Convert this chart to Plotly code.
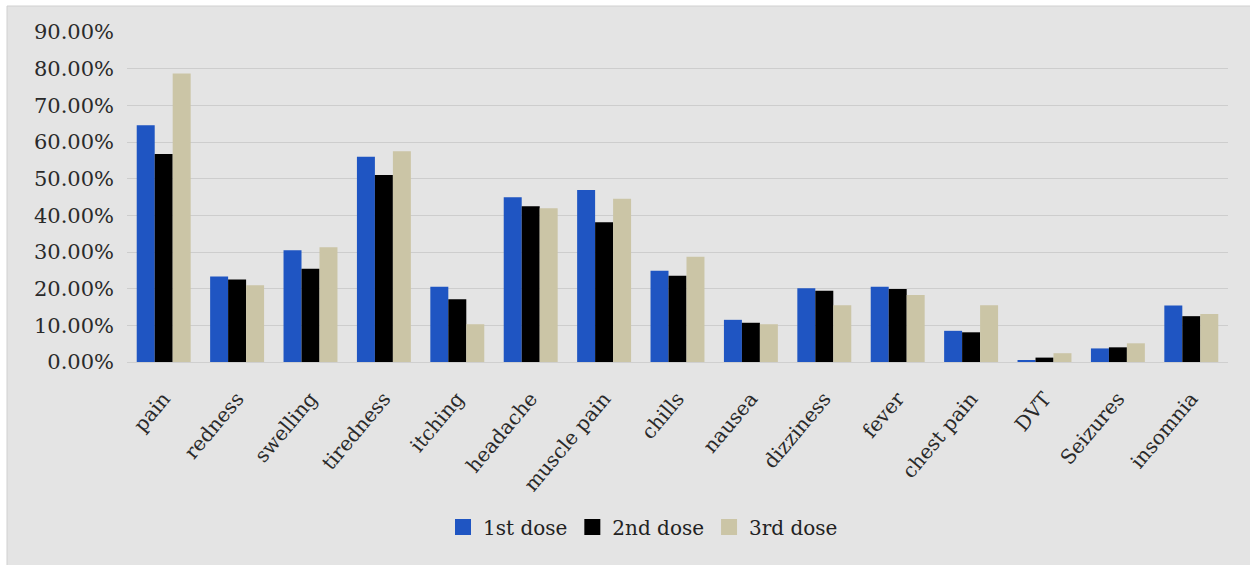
import plotly.graph_objects as go

categories = ["pain", "redness", "swelling", "tiredness", "itching", "headache",
              "muscle pain", "chills", "nausea", "dizziness", "fever", "chest pain",
              "DVT", "Seizures", "insomnia"]
dose1 = [64.6, 23.3, 30.5, 56.0, 20.5, 44.9, 46.9, 24.9, 11.5, 20.1, 20.5, 8.5, 0.5, 3.7, 15.4]
dose2 = [56.7, 22.5, 25.4, 51.0, 17.1, 42.5, 38.1, 23.5, 10.7, 19.4, 19.9, 8.1, 1.2, 4.0, 12.5]
dose3 = [78.7, 20.9, 31.3, 57.5, 10.3, 41.9, 44.5, 28.7, 10.3, 15.5, 18.3, 15.5, 2.4, 5.1, 13.1]
series_names = ["1st dose", "2nd dose", "3rd dose"]
colors = ["#1f55c2", "#000000", "#cbc5a6"]
y_ticks = [0, 10, 20, 30, 40, 50, 60, 70, 80, 90]

W, H = 1250, 565
ml, mr, mt, mb = 127, 22, 32, 203
pw, ph = W - ml - mr, H - mt - mb

fig = go.Figure()
for name, vals, c in zip(series_names, [dose1, dose2, dose3], colors):
    fig.add_trace(go.Bar(x=categories, y=[v / 100 for v in vals], name=name,
                         marker=dict(color=c, line=dict(width=0)), showlegend=False))
# legend swatches (square markers, like the reference's square keys)
for name, c in zip(series_names, colors):
    fig.add_trace(go.Scatter(x=[None], y=[None], mode="markers", name=name,
                             marker=dict(symbol="square", size=18, color=c,
                                         line=dict(width=0)),
                             showlegend=True))

font_family = "DejaVu Serif"
fig.update_layout(
    width=W, height=H,
    margin=dict(l=ml, r=mr, t=mt, b=mb),
    paper_bgcolor="white",
    plot_bgcolor="#e4e4e4",
    barmode="group", bargap=0.265, bargroupgap=0,
    font=dict(family=font_family, color="#333333", size=18),
    showlegend=True,
    legend=dict(orientation="h", x=(643 - ml) / pw, xanchor="center",
                y=(H - mb - 527) / ph, yanchor="middle",
                font=dict(size=20, color="#222222"), bgcolor="rgba(0,0,0,0)",
                itemwidth=30, tracegroupgap=0),
    shapes=[dict(type="rect", xref="paper", yref="paper", layer="below",
                 x0=(7 - ml) / pw, x1=(W + 5 - ml) / pw,
                 y0=(H - mb - (H + 5)) / ph, y1=(H - mb - 6) / ph,
                 fillcolor="#e4e4e4", line=dict(color="#d0d0d0", width=1))],
)
fig.update_xaxes(tickangle=-50, showgrid=False, showline=True, linecolor="#cfcfcf",
                 linewidth=1, ticks="", ticklabelstandoff=16,
                 tickfont=dict(size=20, family=font_family, color="#2a2a2a"))
fig.update_yaxes(range=[0, 0.9], tickvals=[t / 100 for t in y_ticks], tickformat=".2%",
                 showgrid=True, gridcolor="#cdcdcd", gridwidth=1, zeroline=False,
                 showline=False, ticks="", ticklabelstandoff=12,
                 tickfont=dict(size=21, family=font_family, color="#2a2a2a"))

fig.write_html("out.html")
